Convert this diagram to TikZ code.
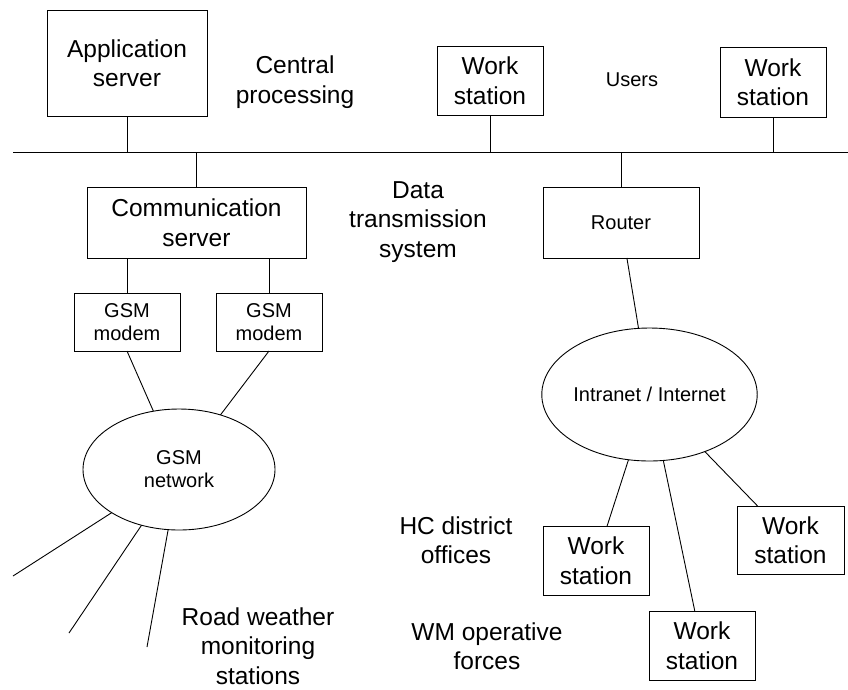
\documentclass[tikz,border=0pt]{standalone}
\usepackage{fontspec}
\setmainfont{Liberation Sans}
\usetikzlibrary{shapes.geometric}

\begin{document}
\begin{tikzpicture}[
  x=1pt, y=-1pt, line width=0.9pt,
  box/.style={draw, align=center, inner sep=0pt, outer sep=0pt,
    font={\fontsize{24.5}{29.5}\selectfont}},
  smallbox/.style={box, font={\fontsize{20}{23}\selectfont}},
  cloud/.style={draw, ellipse, align=center, inner sep=0pt, outer sep=0pt,
    font={\fontsize{20}{23}\selectfont}},
  note/.style={align=center, inner sep=0pt, font={\fontsize{24.5}{29.5}\selectfont}},
  smallnote/.style={note, font={\fontsize{20}{23}\selectfont}}
]
\useasboundingbox (0,0) rectangle (848,689);

% central processing and users
\node[box, minimum width=160pt, minimum height=106pt] (app) at (127,63) {Application\\server};
\node[note] (central) at (295,82) {Central\\processing};
\node[box, minimum width=106pt, minimum height=69pt] (wsA) at (490,80.5) {Work\\station};
\node[smallnote] (users) at (632,80) {Users};
\node[box, minimum width=106pt, minimum height=70pt] (wsB) at (773,82) {Work\\station};

% data transmission
\coordinate (busL) at (13,152);
\coordinate (busR) at (848,152);
\node[box, minimum width=219pt, minimum height=71pt] (comm) at (196.5,222.5) {Communication\\server};
\node[note] (data) at (418,222) {Data\\transmission\\system};
\node[smallbox, minimum width=156pt, minimum height=71pt] (router) at (621,222.5) {Router};
\node[smallbox, minimum width=106pt, minimum height=58pt] (gsmA) at (127,322) {GSM\\modem};
\node[smallbox, minimum width=106pt, minimum height=58pt] (gsmB) at (269,322) {GSM\\modem};
\node[cloud, minimum width=192pt, minimum height=121pt] (gsmnet) at (179,469.5) {GSM\\network};
\node[cloud, minimum width=213pt, minimum height=133pt] (inet) at (649.5,394.5) {Intranet / Internet};

% road weather stations
\coordinate (stA) at (13,576);
\coordinate (stB) at (69,633);
\coordinate (stC) at (147,647);
\node[note] (road) at (258,646) {Road weather\\monitoring\\stations};

% district offices and operative forces
\node[note] (hc) at (456,540) {HC district\\offices};
\node[note] (wm) at (487,646) {WM operative\\forces};
\node[box, minimum width=106pt, minimum height=69pt] (wsC) at (596,560.5) {Work\\station};
\node[box, minimum width=106pt, minimum height=69pt] (wsD) at (702,645.5) {Work\\station};
\node[box, minimum width=107pt, minimum height=68pt] (wsE) at (790.5,540) {Work\\station};

\draw (busL) -- (busR);
\draw (app.south) -- (app.south |- busL);
\draw (wsA.south) -- (wsA.south |- busL);
\draw (wsB.south) -- (wsB.south |- busL);
\draw (comm.north) -- (comm.north |- busL);
\draw (router.north) -- (router.north |- busL);
\draw (gsmA.north |- comm.south) -- (gsmA.north);
\draw (gsmB.north |- comm.south) -- (gsmB.north);
\draw (gsmA.south) -- (gsmnet);
\draw (gsmB.south) -- (gsmnet);
\draw (gsmnet) -- (stA);
\draw (gsmnet) -- (stB);
\draw (gsmnet) -- (stC);
\draw (router) -- (inet);
\draw (inet) -- (wsC);
\draw (inet) -- (wsD);
\draw (inet) -- (wsE);
\end{tikzpicture}
\end{document}
